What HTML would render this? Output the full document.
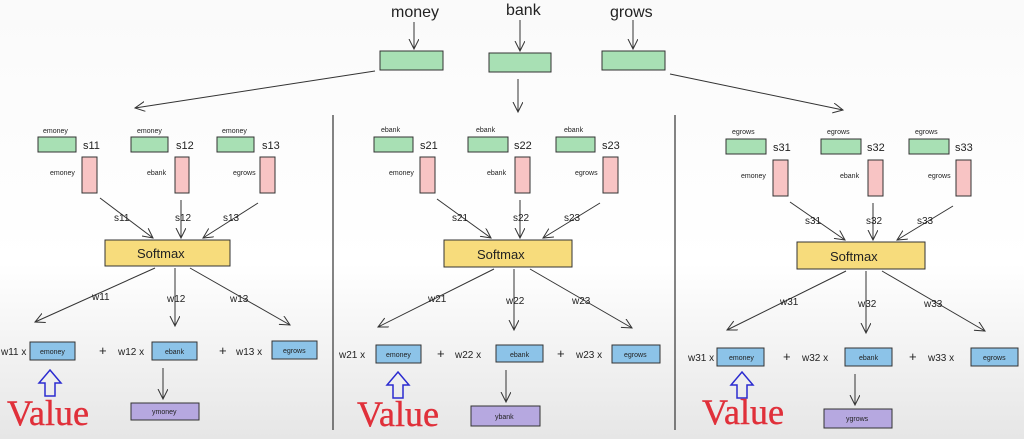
<!DOCTYPE html>
<html><head><meta charset="utf-8"><style>
html,body{margin:0;padding:0;width:1024px;height:439px;overflow:hidden;background:#fff}
svg{display:block}
text{font-family:"Liberation Sans",sans-serif;fill:#222}
.sm{font-size:7px}
.md{font-size:11px}
.lb{font-size:10px}
.g{fill:#a8e0b4;stroke:#333;stroke-width:1}
.p{fill:#f8c4c4;stroke:#333;stroke-width:1}
.y{fill:#f7dc7c;stroke:#333;stroke-width:1}
.b{fill:#8cc3e8;stroke:#333;stroke-width:1}
.v{fill:#b6a8e0;stroke:#333;stroke-width:1}
.l{stroke:#333;stroke-width:1;fill:none;marker-end:url(#a)}
.val{font-family:"Liberation Serif",serif;font-size:36px;fill:#e0303a;stroke:#e0303a;stroke-width:0.4}
</style></head><body>
<svg width="1024" height="439" viewBox="0 0 1024 439">
<defs>
<marker id="a" markerWidth="12" markerHeight="12" refX="10" refY="5" orient="auto" markerUnits="userSpaceOnUse">
<path d="M0,0 L10,5 L0,10" fill="none" stroke="#333" stroke-width="1"/>
</marker>
<linearGradient id="bg" x1="0" y1="0" x2="0" y2="1">
<stop offset="0" stop-color="#fafafa"/><stop offset="0.6" stop-color="#ffffff"/><stop offset="1" stop-color="#e6e6e6"/>
</linearGradient>
<symbol id="up" overflow="visible">
<path d="M0,-13 L11,0 L5,0 L5,13 L-5,13 L-5,0 L-11,0 Z" fill="none" stroke="#2b2bd0" stroke-width="1.5"/>
</symbol>
</defs>
<rect width="1024" height="439" fill="url(#bg)"/>
<text x="391" y="17" style="font-size:16px">money</text>
<text x="506" y="15" style="font-size:16px">bank</text>
<text x="610" y="17" style="font-size:16px">grows</text>
<line class="l" x1="414" y1="22" x2="414" y2="49"/>
<line class="l" x1="520" y1="20" x2="520" y2="51"/>
<line class="l" x1="633" y1="20" x2="633" y2="49"/>
<rect class="g" x="380" y="51" width="63" height="19"/>
<rect class="g" x="489" y="53" width="62" height="19"/>
<rect class="g" x="602" y="51" width="63" height="19"/>
<line class="l" x1="375" y1="71" x2="135" y2="108"/>
<line class="l" x1="518" y1="79" x2="518" y2="112"/>
<line class="l" x1="670" y1="74" x2="843" y2="110"/>
<line x1="333" y1="115" x2="333" y2="430" stroke="#333" stroke-width="1.2"/>
<line x1="675" y1="115" x2="675" y2="430" stroke="#333" stroke-width="1.2"/>

<g>
<text class="sm" x="43" y="133">emoney</text>
<text class="sm" x="137" y="133">emoney</text>
<text class="sm" x="222" y="133">emoney</text>
<rect class="g" x="38" y="137" width="38" height="15"/>
<rect class="g" x="131" y="137" width="37" height="15"/>
<rect class="g" x="217" y="137" width="37" height="15"/>
<text class="md" x="83" y="149">s11</text>
<text class="md" x="176" y="149">s12</text>
<text class="md" x="262" y="149">s13</text>
<rect class="p" x="82" y="157" width="15" height="36"/>
<rect class="p" x="175" y="157" width="14" height="36"/>
<rect class="p" x="260" y="157" width="15" height="36"/>
<text class="sm" x="50" y="175">emoney</text>
<text class="sm" x="147" y="175">ebank</text>
<text class="sm" x="233" y="175">egrows</text>
<line class="l" x1="100" y1="198" x2="153" y2="238"/>
<line class="l" x1="181" y1="200" x2="181" y2="238"/>
<line class="l" x1="258" y1="203" x2="203" y2="238"/>
<text class="lb" x="114" y="221">s11</text>
<text class="lb" x="175" y="221">s12</text>
<text class="lb" x="223" y="221">s13</text>
<rect class="y" x="105" y="240" width="125" height="26"/>
<text x="137" y="258" style="font-size:13px">Softmax</text>
<line class="l" x1="155" y1="268" x2="35" y2="322"/>
<line class="l" x1="175" y1="268" x2="175" y2="326"/>
<line class="l" x1="190" y1="268" x2="290" y2="325"/>
<text class="lb" x="92" y="300">w11</text>
<text class="lb" x="167" y="302">w12</text>
<text class="lb" x="230" y="302">w13</text>
<text class="lb" x="1" y="355">w11 x</text>
<rect class="b" x="30" y="342" width="45" height="18"/>
<text class="sm" x="40" y="354">emoney</text>
<text x="99" y="355" style="font-size:13px">+</text>
<text class="lb" x="118" y="355">w12 x</text>
<rect class="b" x="152" y="342" width="45" height="18"/>
<text class="sm" x="165" y="354">ebank</text>
<text x="219" y="355" style="font-size:13px">+</text>
<text class="lb" x="236" y="355">w13 x</text>
<rect class="b" x="272" y="341" width="45" height="18"/>
<text class="sm" x="283" y="353">egrows</text>
<use href="#up" x="50" y="383"/>
<text class="val" x="7" y="425">Value</text>
<line class="l" x1="163" y1="368" x2="163" y2="399"/>
<rect class="v" x="131" y="403" width="68" height="17"/>
<text class="sm" x="152" y="414">ymoney</text>
</g>

<g>
<text class="sm" x="381" y="132">ebank</text>
<text class="sm" x="476" y="132">ebank</text>
<text class="sm" x="564" y="132">ebank</text>
<rect class="g" x="374" y="137" width="39" height="15"/>
<rect class="g" x="468" y="137" width="40" height="15"/>
<rect class="g" x="556" y="137" width="39" height="15"/>
<text class="md" x="420" y="149">s21</text>
<text class="md" x="514" y="149">s22</text>
<text class="md" x="602" y="149">s23</text>
<rect class="p" x="420" y="157" width="15" height="36"/>
<rect class="p" x="515" y="157" width="15" height="36"/>
<rect class="p" x="603" y="157" width="15" height="36"/>
<text class="sm" x="389" y="175">emoney</text>
<text class="sm" x="487" y="175">ebank</text>
<text class="sm" x="575" y="175">egrows</text>
<line class="l" x1="437" y1="199" x2="491" y2="238"/>
<line class="l" x1="520" y1="200" x2="520" y2="238"/>
<line class="l" x1="600" y1="203" x2="543" y2="238"/>
<text class="lb" x="452" y="221">s21</text>
<text class="lb" x="513" y="221">s22</text>
<text class="lb" x="564" y="221">s23</text>
<rect class="y" x="444" y="240" width="128" height="27"/>
<text x="477" y="259" style="font-size:13px">Softmax</text>
<line class="l" x1="494" y1="269" x2="378" y2="327"/>
<line class="l" x1="514" y1="269" x2="514" y2="330"/>
<line class="l" x1="530" y1="269" x2="632" y2="328"/>
<text class="lb" x="428" y="302">w21</text>
<text class="lb" x="506" y="304">w22</text>
<text class="lb" x="572" y="304">w23</text>
<text class="lb" x="339" y="358">w21 x</text>
<rect class="b" x="376" y="345" width="45" height="18"/>
<text class="sm" x="386" y="357">emoney</text>
<text x="437" y="358" style="font-size:13px">+</text>
<text class="lb" x="455" y="358">w22 x</text>
<rect class="b" x="496" y="345" width="47" height="17"/>
<text class="sm" x="510" y="357">ebank</text>
<text x="557" y="358" style="font-size:13px">+</text>
<text class="lb" x="576" y="358">w23 x</text>
<rect class="b" x="612" y="345" width="48" height="18"/>
<text class="sm" x="624" y="357">egrows</text>
<use href="#up" x="398" y="385"/>
<text class="val" x="357" y="426">Value</text>
<line class="l" x1="506" y1="370" x2="506" y2="402"/>
<rect class="v" x="471" y="406" width="69" height="20"/>
<text class="sm" x="495" y="419">ybank</text>
</g>

<g>
<text class="sm" x="732" y="134">egrows</text>
<text class="sm" x="827" y="134">egrows</text>
<text class="sm" x="915" y="134">egrows</text>
<rect class="g" x="726" y="139" width="40" height="15"/>
<rect class="g" x="821" y="139" width="40" height="15"/>
<rect class="g" x="909" y="139" width="40" height="15"/>
<text class="md" x="773" y="151">s31</text>
<text class="md" x="867" y="151">s32</text>
<text class="md" x="955" y="151">s33</text>
<rect class="p" x="773" y="160" width="15" height="36"/>
<rect class="p" x="868" y="160" width="15" height="36"/>
<rect class="p" x="956" y="160" width="15" height="36"/>
<text class="sm" x="741" y="178">emoney</text>
<text class="sm" x="840" y="178">ebank</text>
<text class="sm" x="928" y="178">egrows</text>
<line class="l" x1="790" y1="202" x2="845" y2="240"/>
<line class="l" x1="873" y1="203" x2="873" y2="240"/>
<line class="l" x1="953" y1="206" x2="897" y2="240"/>
<text class="lb" x="805" y="224">s31</text>
<text class="lb" x="866" y="224">s32</text>
<text class="lb" x="917" y="224">s33</text>
<rect class="y" x="797" y="242" width="128" height="27"/>
<text x="830" y="261" style="font-size:13px">Softmax</text>
<line class="l" x1="846" y1="271" x2="727" y2="330"/>
<line class="l" x1="866" y1="271" x2="866" y2="333"/>
<line class="l" x1="882" y1="271" x2="985" y2="331"/>
<text class="lb" x="780" y="305">w31</text>
<text class="lb" x="858" y="307">w32</text>
<text class="lb" x="924" y="307">w33</text>
<text class="lb" x="688" y="361">w31 x</text>
<rect class="b" x="717" y="348" width="47" height="18"/>
<text class="sm" x="729" y="360">emoney</text>
<text x="783" y="361" style="font-size:13px">+</text>
<text class="lb" x="802" y="361">w32 x</text>
<rect class="b" x="845" y="348" width="47" height="18"/>
<text class="sm" x="859" y="360">ebank</text>
<text x="909" y="361" style="font-size:13px">+</text>
<text class="lb" x="928" y="361">w33 x</text>
<rect class="b" x="971" y="348" width="47" height="18"/>
<text class="sm" x="983" y="360">egrows</text>
<use href="#up" x="742" y="385"/>
<text class="val" x="702" y="424">Value</text>
<line class="l" x1="855" y1="374" x2="855" y2="405"/>
<rect class="v" x="824" y="409" width="68" height="19"/>
<text class="sm" x="846" y="421">ygrows</text>
</g>
</svg>
</body></html>
